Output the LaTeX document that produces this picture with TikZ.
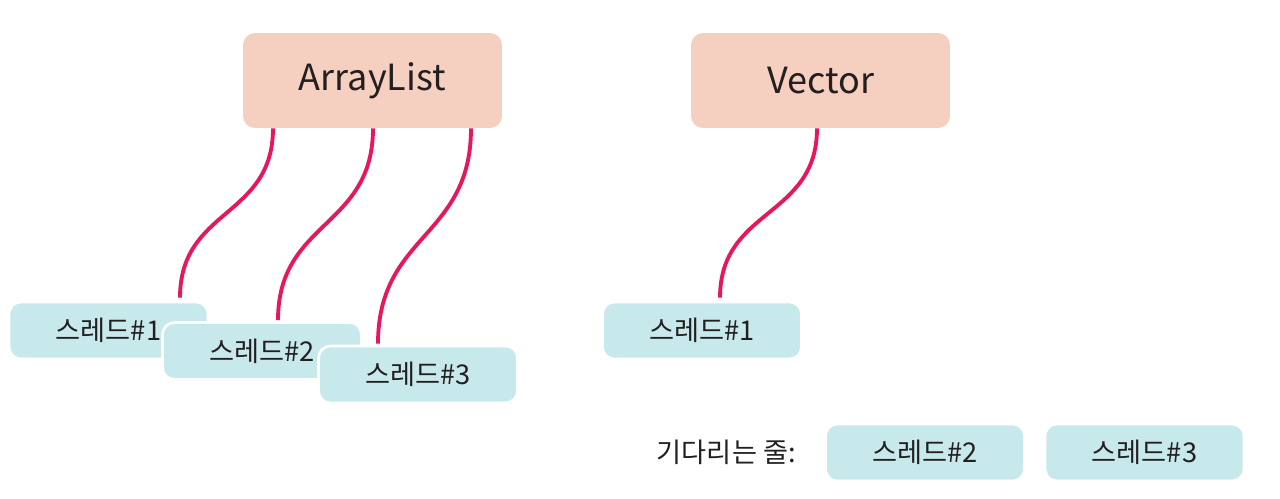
\documentclass[tikz,border=0pt]{standalone}
\usepackage{fontspec}
\setmainfont{Noto Sans CJK KR}
\usetikzlibrary{calc}
\definecolor{peach}{HTML}{F5CFC0}
\definecolor{mint}{HTML}{C8E9EB}
\definecolor{wire}{HTML}{E6175C}
\definecolor{ink}{HTML}{231F20}

\begin{document}
\begin{tikzpicture}[x=0.02cm,y=-0.02cm,
  coll/.style={fill=peach,rounded corners=0.24cm,minimum width=5.18cm,minimum height=1.9cm,
    text=ink,font=\fontsize{20.5}{24}\selectfont},
  thread/.style={fill=mint,draw=white,line width=1.5pt,rounded corners=0.24cm,
    minimum width=3.98cm,minimum height=1.14cm,text=ink,font=\fontsize{15.5}{18}\selectfont},
  link/.style={draw=wire,line width=2.2pt}]
\useasboundingbox (0,0) rectangle (1280,499);

% ArrayList
\node[coll] (al) at (372.5,80.5) {ArrayList};
\node[thread] (at1) at (108.5,330.5) {스레드\#1};
\node[thread] (at2) at (262,351) {스레드\#2};
\node[thread] (at3) at (418,374.5) {스레드\#3};

\draw[link] ($(al.south)+(-99.5,0)$) .. controls +(0,90) and +(0,-90) .. ($(at1.north)+(71.5,-3)$);
\draw[link] ($(al.south)+(0.5,0)$) .. controls +(0,100) and +(0,-100) .. ($(at2.north)+(16,-1)$);
\draw[link] ($(al.south)+(98.5,0)$) .. controls +(0,110) and +(0,-110) .. ($(at3.north)+(-40,-1)$);

% Vector
\node[coll] (vec) at (820.5,80.5) {Vector};
\node[thread] (vt1) at (702,330.5) {스레드\#1};
\draw[link] ($(vec.south)+(-3.5,0)$) .. controls +(0,90) and +(0,-90) .. ($(vt1.north)+(18,-3)$);

% waiting queue
\node[thread] (vt2) at (925,452.5) {스레드\#2};
\node[thread] (vt3) at (1144.5,452.5) {스레드\#3};
\node[text=ink,font=\fontsize{15.5}{18}\selectfont,anchor=east] (wait) at (802,452) {기다리는 줄:};

\end{tikzpicture}
\end{document}
